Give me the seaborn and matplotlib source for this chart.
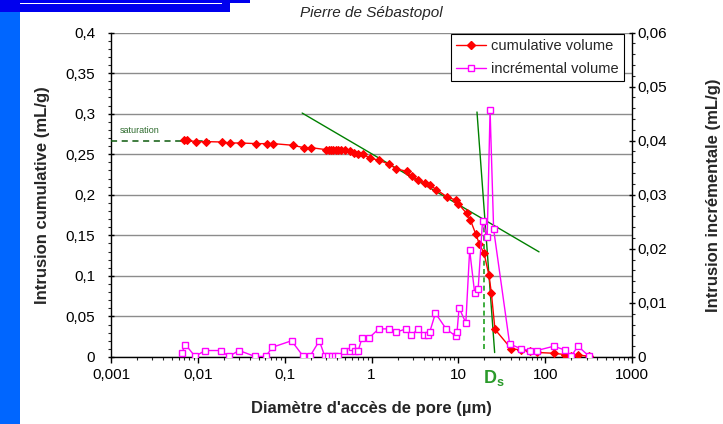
import matplotlib
matplotlib.use("Agg")
import matplotlib.pyplot as plt
import numpy as np
import pandas as pd
import seaborn as sns
from matplotlib.ticker import FixedLocator, FixedFormatter, MultipleLocator, LogLocator, NullFormatter
from matplotlib.patches import Rectangle
from matplotlib.lines import Line2D

# Mercury porosimetry data — Pierre de Sébastopol
diam_cum = [0.0070, 0.0075, 0.0095, 0.0124, 0.0192, 0.0236, 0.0312, 0.0472, 0.0621, 0.0741,
            0.124, 0.167, 0.203, 0.300, 0.320, 0.342, 0.365, 0.390, 0.415, 0.44,
            0.50, 0.57, 0.625, 0.70, 0.80, 0.955, 1.22, 1.60, 1.91, 2.53,
            2.89, 3.44, 4.10, 4.69, 5.60, 7.41, 9.50, 9.93, 12.5, 13.8,
            15.9, 17.5, 19.8, 22.5, 24.0, 26.4, 40.8, 53.2, 67.6, 81.0,
            126, 168, 200, 239, 317]
vol_cum = [0.268, 0.268, 0.265, 0.2655, 0.265, 0.2638, 0.2638, 0.263, 0.263, 0.263,
           0.261, 0.258, 0.258, 0.2556, 0.2556, 0.2556, 0.2556, 0.2556, 0.2556, 0.2556,
           0.2556, 0.2535, 0.2515, 0.2507, 0.2498, 0.2453, 0.2425, 0.2375, 0.2322, 0.2289,
           0.2228, 0.2187, 0.2145, 0.2117, 0.2064, 0.1973, 0.1932, 0.1892, 0.1769, 0.1686,
           0.1514, 0.139, 0.1276, 0.101, 0.0792, 0.0341, 0.0100, 0.0088, 0.0070, 0.0056,
           0.0046, 0.0030, 0.0016, 0.0024, 0.0010]

diam_inc = [0.00655, 0.0072, 0.0093, 0.0121, 0.0184, 0.0227, 0.0298, 0.0456, 0.0605, 0.0722,
            0.120, 0.164, 0.195, 0.251, 0.290, 0.318, 0.347, 0.378, 0.414, 0.481,
            0.559, 0.600, 0.643, 0.703, 0.782, 0.948, 1.21, 1.58, 1.92, 2.51,
            2.86, 3.44, 4.06, 4.44, 4.68, 5.45, 7.3, 9.33, 9.67, 10.2,
            12.2, 13.5, 15.4, 16.9, 19.0, 21.5, 23.2, 25.5, 39.0, 53.2,
            67.6, 80.5, 126, 168, 200, 239, 317]
vol_inc = [0.0008, 0.0023, 0.0001, 0.0012, 0.0012, 0.0001, 0.0012, 0.0001, 0.0001, 0.0018,
           0.0030, 0.0001, 0.0001, 0.0030, 0.0001, 0.0001, 0.0001, 0.0001, 0.0001, 0.0012,
           0.0012, 0.0018, 0.0012, 0.0012, 0.0036, 0.0036, 0.0052, 0.0052, 0.0046, 0.0052,
           0.0040, 0.0052, 0.0040, 0.0040, 0.0046, 0.0081, 0.0051, 0.0039, 0.0047, 0.0091,
           0.0063, 0.0198, 0.0119, 0.0125, 0.0252, 0.0222, 0.0457, 0.0236, 0.0024, 0.0015,
           0.0012, 0.0012, 0.0020, 0.0013, 0.0002, 0.0020, 0.0002]

# Construction lines (saturation level, tangents, threshold diameter Ds)
saturation_level = 0.2662
saturation_end = 0.0138
tangent_x = [0.159, 85.0]
tangent_y = [0.3007, 0.1296]
steep_x = [16.4, 26.2]
steep_y = [0.302, 0.0055]
ds_value = 19.8
ds_top = 0.170
ds_bottom = 0.006

x_ticks = [0.001, 0.01, 0.1, 1, 10, 100, 1000]
x_tick_labels = ["0,001", "0,01", "0,1", "1", "10", "100", "1000"]
y_ticks = [0, 0.05, 0.1, 0.15, 0.2, 0.25, 0.3, 0.35, 0.4]
y_tick_labels = ["0", "0,05", "0,1", "0,15", "0,2", "0,25", "0,3", "0,35", "0,4"]
y2_ticks = [0, 0.01, 0.02, 0.03, 0.04, 0.05, 0.06]
y2_tick_labels = ["0", "0,01", "0,02", "0,03", "0,04", "0,05", "0,06"]

sns.set_theme(style="white")
plt.rcParams["font.family"] = ["Liberation Sans", "DejaVu Sans"]
plt.rcParams["mathtext.fontset"] = "custom"
plt.rcParams["mathtext.bf"] = "Liberation Sans:bold"
plt.rcParams["mathtext.rm"] = "Liberation Sans"

W, H = 723, 424
fig = plt.figure(figsize=(W / 100, H / 100), dpi=100)
fig.patch.set_facecolor("white")

# slide decoration: blue side bar and header band
fig.add_artist(Rectangle((0, 0), 20 / W, 1, transform=fig.transFigure,
                         facecolor="#0066FF", edgecolor="none", zorder=0))
fig.add_artist(Rectangle((0, 1 - 12 / H), 230 / W, 12 / H, transform=fig.transFigure,
                         facecolor="#0000EE", edgecolor="none", zorder=1))
fig.add_artist(Rectangle((0, 1 - 2.7 / H), 250 / W, 2.7 / H, transform=fig.transFigure,
                         facecolor="#0000EE", edgecolor="none", zorder=1))
fig.add_artist(Rectangle((20 / W, 1 - 4 / H), 202 / W, 1.3 / H, transform=fig.transFigure,
                         facecolor="white", edgecolor="none", zorder=2))

left, right, top, bottom = 111, 632, 32.5, 357
ax = fig.add_axes([left / W, 1 - bottom / H, (right - left) / W, (bottom - top) / H])
ax.patch.set_alpha(0)

cum_df = pd.DataFrame({"diam": diam_cum, "vol": vol_cum})
inc_df = pd.DataFrame({"diam": diam_inc, "vol": vol_inc})

sns.lineplot(data=cum_df, x="diam", y="vol", ax=ax, sort=False, color="#FF0000",
             linewidth=1, marker="D", markersize=4.5, markeredgecolor="#FF0000",
             markerfacecolor="#FF0000", legend=False, zorder=5)

ax2 = ax.twinx()
sns.lineplot(data=inc_df, x="diam", y="vol", ax=ax2, sort=False, color="#FF00FF",
             linewidth=1, marker="s", markersize=4.2, markeredgecolor="#FF00FF",
             markerfacecolor="white", markeredgewidth=1, legend=False, zorder=4)

# construction lines
ax.plot([0.001, saturation_end], [saturation_level, saturation_level], color="#0B5A0B",
        lw=1.1, dashes=(4, 3), zorder=3)
ax.text(0.00125, 0.279, "saturation", fontsize=6.5, color="#2E6B2E", ha="left", va="center")
ax.plot(tangent_x, tangent_y, color="#008000", lw=1, zorder=3)
ax.plot(steep_x, steep_y, color="#008000", lw=1, zorder=3)
ax.plot([ds_value, ds_value], [ds_top, ds_bottom], color="#1F9F1F", lw=1.2,
        dashes=(3, 2), zorder=3)
ax.text(ds_value * 0.98, -0.026, r"$\mathbf{D_s}$", color="#2A9A2A", fontsize=13,
        ha="left", va="center", transform=ax.transData, clip_on=False)

ax.set_xscale("log")
ax.set_xlim(0.001, 1000)
ax.set_ylim(0, 0.4)
ax2.set_ylim(0, 0.06)

ax.xaxis.set_major_locator(FixedLocator(x_ticks))
ax.xaxis.set_major_formatter(FixedFormatter(x_tick_labels))
ax.xaxis.set_minor_locator(LogLocator(base=10, subs=np.arange(2, 10)))
ax.xaxis.set_minor_formatter(NullFormatter())
ax.yaxis.set_major_locator(FixedLocator(y_ticks))
ax.yaxis.set_major_formatter(FixedFormatter(y_tick_labels))
ax.yaxis.set_minor_locator(MultipleLocator(0.01))
ax2.yaxis.set_major_locator(FixedLocator(y2_ticks))
ax2.yaxis.set_major_formatter(FixedFormatter(y2_tick_labels))
ax2.yaxis.set_minor_locator(MultipleLocator(0.002))

ax.yaxis.grid(True, which="major", color="#8C8C8C", lw=1)
ax.xaxis.grid(False)
ax2.grid(False)
ax.set_axisbelow(True)

for a in (ax, ax2):
    a.spines["top"].set_visible(False)
    for s in a.spines.values():
        s.set_color("black")
        s.set_linewidth(1)
ax.spines["right"].set_visible(False)
ax2.spines["left"].set_visible(False)
ax2.spines["bottom"].set_visible(False)

ax.tick_params(axis="x", which="major", direction="out", length=4, width=1,
               labelsize=11, pad=4, colors="black", bottom=True)
ax.tick_params(axis="x", which="minor", direction="out", length=2.5, width=0.8, bottom=True)
ax.tick_params(axis="y", which="major", direction="inout", length=5, width=1,
               labelsize=11, pad=9, colors="black", left=True)
ax.tick_params(axis="y", which="minor", direction="out", length=2.5, width=0.8, left=True)
ax2.tick_params(axis="y", which="major", direction="inout", length=5, width=1,
                labelsize=11, pad=1.5, colors="black", right=True)
ax2.tick_params(axis="y", which="minor", direction="out", length=2.5, width=0.8, right=True)

ax.set_xlabel("Diamètre d'accès de pore (µm)", fontsize=12, fontweight="bold")
ax.set_ylabel("Intrusion cumulative (mL/g)", fontsize=12, fontweight="bold")
ax2.set_ylabel("Intrusion incrémentale (mL/g)", fontsize=12, fontweight="bold",
               rotation=90, va="top")
ax.xaxis.set_label_coords(0.5, (bottom - 401) / (bottom - top))
ax.yaxis.set_label_coords((50 - left) / (right - left), 0.5)
ax2.yaxis.set_label_coords((706 - left) / (right - left), 0.5)

fig.text((left + right) / 2 / W, 1 - 13 / H, "Pierre de Sébastopol", ha="center",
         va="center", style="italic", fontsize=11)

handles = [
    Line2D([], [], color="#FF0000", lw=1, marker="D", markersize=4.5),
    Line2D([], [], color="#FF00FF", lw=1, marker="s", markersize=4.2,
           markerfacecolor="white", markeredgewidth=1),
]
leg = ax2.legend(handles, ["cumulative volume", "incrémental volume"], loc="upper right",
                 bbox_to_anchor=(0.985, 0.995), fontsize=10.5, frameon=True, fancybox=False,
                 edgecolor="black", framealpha=1, borderpad=0.35, handlelength=2.0,
                 handletextpad=0.4, labelspacing=0.6, borderaxespad=0)
leg.get_frame().set_linewidth(0.8)

fig.savefig("out.png", dpi=100)
